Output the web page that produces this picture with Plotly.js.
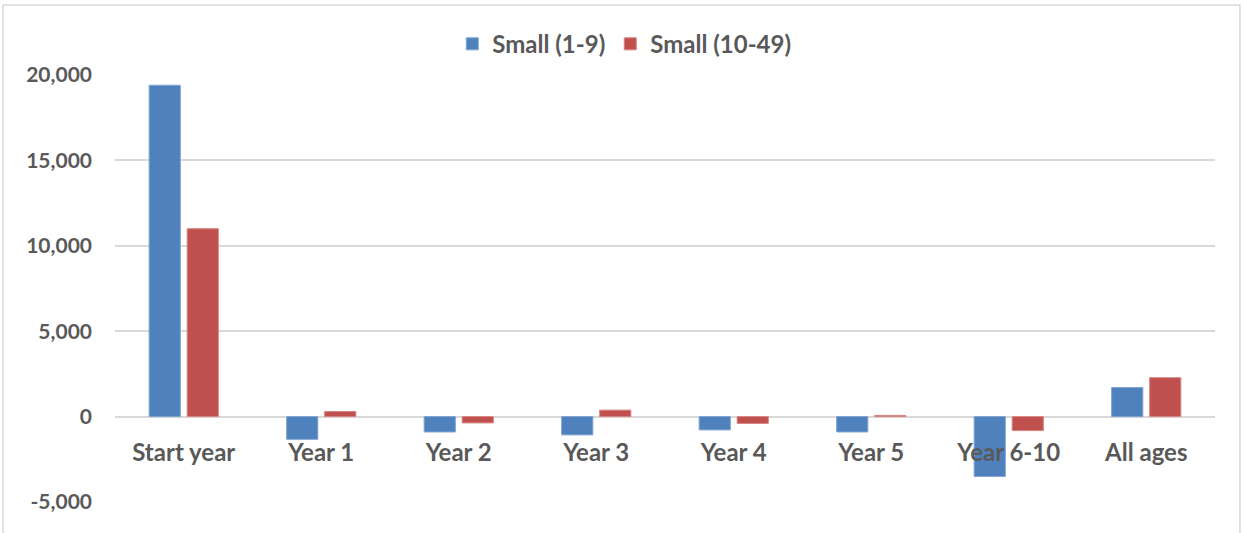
<!DOCTYPE html>
<html>
<head>
<meta charset="utf-8">
<script src="https://cdn.plot.ly/plotly-3.0.1.min.js"></script>
<style>html,body{margin:0;padding:0;background:#fff;}#chart{width:1244px;height:533px;}</style>
</head>
<body>
<div id="chart"></div>
<script>
const categories = ["Start year", "Year 1", "Year 2", "Year 3", "Year 4", "Year 5", "Year 6-10", "All ages"];
const seriesNames = ["Small (1-9)", "Small (10-49)"];
const small1to9 = [19400, -1330, -900, -1070, -780, -900, -3500, 1700];
const small10to49 = [11000, 300, -370, 380, -400, 70, -820, 2280];
const yTickVals = [-5000, 0, 5000, 10000, 15000, 20000];
const yTickText = ["-5,000", "0", "5,000", "10,000", "15,000", "20,000"];

const textColor = "#595959";
const fontFam = "Lato, 'Open Sans', sans-serif";

const traces = [
  {type: "bar", name: seriesNames[0], x: categories, y: small1to9,
   marker: {color: "#4F81BD", line: {color: "#7EA3D3", width: 1}}},
  {type: "bar", name: seriesNames[1], x: categories, y: small10to49,
   marker: {color: "#C0504D", line: {color: "#D88583", width: 1}}}
];

const layout = {
  width: 1244, height: 533,
  margin: {l: 115, r: 29, t: 75, b: 31, pad: 0, autoexpand: false},
  paper_bgcolor: "#fff", plot_bgcolor: "#fff",
  barmode: "group", bargap: 0.447, bargroupgap: 0.18,
  showlegend: true,
  legend: {orientation: "h", xref: "paper", x: 0.463, xanchor: "center",
           yref: "container", y: 0.917, yanchor: "middle",
           bgcolor: "rgba(0,0,0,0)",
           font: {family: fontFam, size: 24, color: textColor, weight: "bold"},
           itemwidth: 30, traceorder: "normal"},
  xaxis: {type: "category", anchor: "free", position: 0.2, showline: false, ticks: "",
          showgrid: false, zeroline: false, automargin: false, ticklabelstandoff: 19,
          tickfont: {family: fontFam, size: 24, color: textColor, weight: "bold"}},
  yaxis: {range: [-5000, 20000], tickvals: yTickVals, ticktext: yTickText, automargin: false,
          showgrid: true, gridcolor: "#D9D9D9", gridwidth: 2, zeroline: true,
          zerolinecolor: "#D9D9D9", zerolinewidth: 2, showline: false, ticks: "",
          ticklabelstandoff: 22,
          tickfont: {family: fontFam, size: 21, color: textColor, weight: "bold"}},
  shapes: [
    {type: "rect", xref: "paper", yref: "paper", x0: -0.1018, x1: 1.0227, y0: -0.2, y1: 1.164,
     line: {color: "#D9D9D9", width: 1.5}, fillcolor: "rgba(0,0,0,0)", layer: "below"}
  ]
};

Plotly.newPlot("chart", traces, layout, {displayModeBar: false, staticPlot: true});
</script>
</body>
</html>
